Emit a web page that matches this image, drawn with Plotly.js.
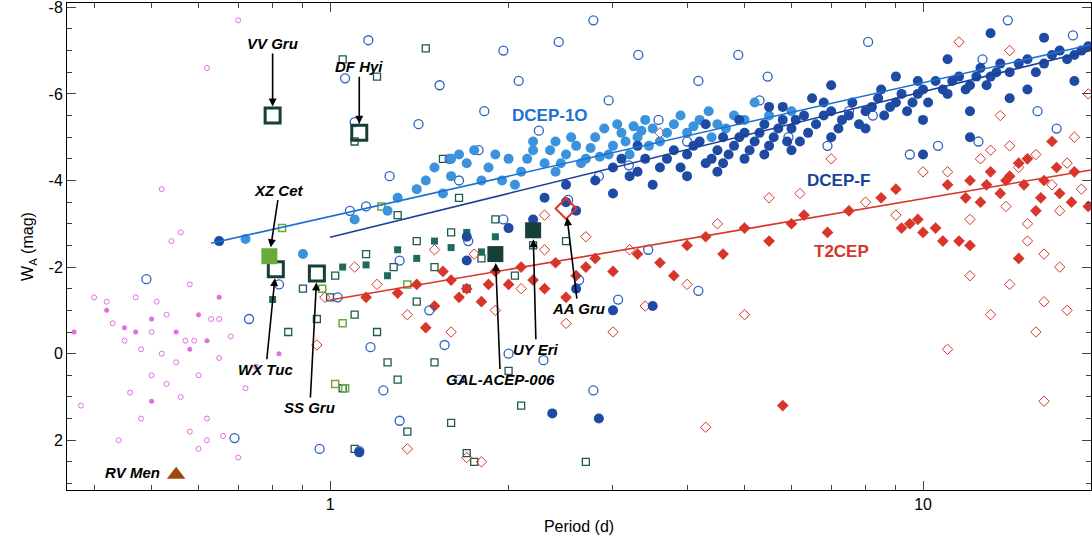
<!DOCTYPE html><html><head><script src="https://cdn.plot.ly/plotly-3.0.1.min.js"></script>
<style>body{margin:0}</style></head><body><div id="c" style="width:1092px;height:558px"></div><script>
// [period, W_A]
const dcep1o=[[1.3,-3.6],[1.4,-3.8],[1.5,-4.3],[1.6,-4.1],[1.7,-4.4],[1.8,-4.0],[1.9,-4.6],[2.0,-4.5],[2.1,-4.2],[2.2,-4.7],[2.3,-4.4],[2.4,-4.9],[2.5,-4.6],[2.6,-4.8],[2.7,-4.5],[2.8,-5.0],[3.0,-4.8],[3.1,-5.1],[3.3,-5.0],[3.5,-5.2],[3.6,-4.9],[3.8,-5.3],[4.0,-5.1],[4.2,-5.4],[4.5,-5.3],[4.8,-5.5],[5.0,-5.4],[5.5,-5.5],[6.0,-5.6],[2.9,-5.2],[2.4,-4.2],[1.25,-3.3],[1.1,-3.1],[0.72,-2.65],[0.9,-2.3],[3.4,-5.4],[3.2,-4.6],[2.2,-4.9],[1.6,-4.5],[1.95,-4.0],[5.2,-5.8],[2.05,-3.9],[1.75,-4.7],[1.85,-4.3],[2.15,-4.5],[2.35,-4.7],[2.55,-5.0],[2.65,-4.4],[2.75,-4.75],[2.85,-4.55],[3.05,-5.3],[3.15,-4.9],[3.25,-5.25],[3.45,-4.8],[3.7,-5.1],[3.9,-5.5],[4.1,-5.25],[4.35,-5.6],[4.65,-5.2],[1.45,-4.0],[1.55,-3.7],[1.65,-4.6],[2.45,-4.4],[2.95,-4.6],[3.35,-5.15],[4.4,-5.0]];
const dcepF=[[2.3,-3.6],[2.5,-3.9],[2.6,-3.3],[2.8,-4.0],[3.0,-4.3],[3.2,-4.1],[3.4,-4.5],[3.6,-4.3],[3.8,-4.7],[4.0,-4.6],[4.2,-4.9],[4.4,-4.5],[4.6,-5.0],[4.8,-4.8],[5.0,-5.1],[5.2,-4.9],[5.4,-5.3],[5.6,-5.0],[5.8,-5.4],[6.0,-5.2],[6.3,-5.5],[6.6,-5.3],[7.0,-5.6],[7.3,-5.4],[7.6,-5.8],[8.0,-5.6],[8.4,-5.9],[8.8,-5.7],[9.2,-6.0],[9.6,-5.8],[10,-6.1],[10.5,-6.3],[11,-6.0],[11.5,-6.4],[12,-6.2],[12.5,-6.6],[13,-6.4],[13.5,-6.7],[14,-6.5],[15,-6.8],[16,-6.7],[17,-7.0],[18,-6.9],[19,-7.1],[3.0,-3.7],[3.5,-3.9],[4.0,-4.1],[4.5,-4.2],[5.0,-4.5],[6.0,-4.7],[7.0,-5.0],[8.0,-5.2],[5.5,-5.7],[6.5,-5.9],[4.3,-5.3],[3.3,-4.8],[2.5,-3.5],[2.2,-3.1],[2.0,-2.9],[1.7,-2.7],[12,-5.6],[14,-5.9],[10,-5.4],[9,-6.4],[11,-6.8],[16,-7.3],[13,-7.4],[15,-6.1],[18,-6.3],[7.0,-6.2],[3.5,-1.1],[2.6,-1.5],[3.0,-1.0],[10,-4.6],[12,-5.0],[2.37,1.38],[2.84,1.5],[1.12,2.28],[0.65,-2.6],[1.7,-2.15],
[3.1,-4.5],[3.3,-4.2],[3.7,-4.5],[3.9,-4.3],[4.1,-4.8],[4.3,-4.4],[4.5,-4.7],[4.7,-4.6],[4.9,-5.0],[5.1,-4.7],[5.3,-5.1],[5.5,-4.8],[5.7,-5.2],[5.9,-4.9],[6.1,-5.4],[6.4,-5.1],[6.8,-5.5],[7.2,-5.2],[7.5,-5.5],[7.8,-5.3],[8.2,-5.7],[8.6,-5.5],[9.0,-5.8],[9.4,-5.6],[9.8,-6.0],[10.2,-5.8],[10.8,-6.1],[11.2,-6.3],[11.8,-6.1],[12.3,-6.4],[12.8,-6.2],[13.3,-6.5],[14.5,-6.7],[15.5,-6.5],[16.5,-6.9],[17.5,-6.8],[18.5,-7.0],[4.6,-4.4],[5.4,-4.6],[6.2,-4.9],[6.8,-5.8],[8.5,-6.1],[9.8,-6.3],[5.8,-5.7],[4.9,-5.4]];
const blueOpen=[[0.49,-1.72],[0.69,1.95],[0.73,-0.8],[0.82,-1.6],[0.96,2.2],[1.03,-1.3],[1.12,2.25],[1.17,-0.15],[1.08,-3.3],[1.15,-3.4],[1.26,-4.1],[1.41,-5.3],[1.53,-6.2],[1.59,-4.5],[1.71,-2.6],[1.82,-5.6],[1.96,-7.0],[2.08,-6.3],[2.43,-7.2],[2.78,-7.7],[2.95,-5.85],[3.31,-6.9],[3.58,-5.4],[4.18,-6.3],[4.88,-6.9],[5.47,-6.4],[5.93,-5.0],[6.9,-4.8],[8.08,-7.2],[8.23,-5.5],[9.5,-4.6],[10.6,-4.8],[12.6,-6.8],[13.9,-7.7],[15.6,-5.6],[16.8,-5.2],[17.9,-7.35],[1.56,-0.2],[1.65,0.6],[2.0,0.0],[2.29,0.15],[2.63,-1.7],[2.78,0.85],[3.06,-1.25],[3.44,-2.4],[4.18,-1.45],[1.31,1.55],[1.23,0.85],[1.47,-1.0],[2.52,-3.55],[2.84,-4.1],[3.19,-4.35],[2.25,-5.15],[1.78,-4.7],[1.31,-2.15],[1.65,-4.0],[1.96,-3.1],[5.3,-5.85],[4.0,-4.9],[7.5,-5.6],[12.4,-4.9],[1.06,-6.36],[1.16,-7.24],[1.1,-5.35]];
const t2Fill=[[1.3,-1.4],[1.4,-1.6],[1.5,-1.1],[1.6,-1.7],[1.7,-1.5],[1.8,-1.2],[1.9,-1.9],[2.0,-1.6],[2.1,-2.0],[2.2,-1.7],[2.4,-2.1],[2.6,-1.8],[2.8,-2.2],[3.0,-1.9],[3.3,-2.3],[3.6,-2.1],[4.0,-2.5],[4.3,-2.7],[4.6,-2.3],[5.0,-2.9],[5.5,-2.6],[6.0,-3.0],[6.3,-3.2],[6.9,-2.8],[7.5,-3.3],[8.5,-3.6],[9.0,-3.8],[9.5,-3.0],[10,-2.8],[10.5,-2.9],[11,-3.9],[12,-4.0],[12.5,-3.5],[13,-4.2],[14,-4.1],[15,-4.5],[15.5,-3.3],[16,-4.0],[17,-3.7],[18,-4.2],[19,-3.4],[16.5,-4.9],[14.5,-4.4],[13.5,-3.7],[11.5,-2.6],[12,-2.5],[5.8,1.2],[14.5,-2.2],[1.45,-0.6],[1.15,-1.3],[1.55,-1.9],[3.8,-1.8],[2.5,-1.3],[12.8,-3.9],[13.8,-4.0],[14.8,-3.9],[15.8,-3.6],[16.8,-4.3],[17.8,-3.5],[11.8,-3.6],[9.2,-2.9],[9.8,-3.1],[10.8,-2.6],[1.65,-1.3],[1.85,-1.6],[2.3,-1.5],[2.7,-2.0]];
const t2Open=[[0.98,-1.3],[1.1,-2.0],[1.2,-1.6],[1.35,-0.9],[1.5,-2.4],[1.6,-0.5],[1.75,-2.3],[1.9,-1.0],[2.1,-1.5],[2.3,-2.4],[2.5,-0.7],[2.7,-2.7],[3.0,-0.5],[3.4,-1.1],[4.0,-1.6],[4.5,-3.0],[5.0,-0.9],[5.5,-3.6],[6.2,-3.7],[7.0,-4.5],[8.0,-3.5],[9.0,-3.2],[10,-4.2],[11,-0.1],[12,-1.8],[13,-0.9],[14,-4.8],[15,-2.6],[16,-1.2],[17,-3.3],[15.5,-0.5],[16,1.1],[18,-5.0],[13.5,-5.5],[11.5,-7.2],[14,-7.0],[4.3,1.7],[1.7,2.4],[1.35,2.2],[1.8,2.5],[0.95,-0.2],[3.6,-5.1],[19,-6.0],[3.2,-2.4],[2.3,-3.2],[12.5,-4.5],[13,-4.7],[14.5,-4.3],[15.5,-4.6],[16.5,-3.9],[17.5,-4.4],[18.5,-3.8],[13.8,-3.4],[15,-3.0],[16,-2.3],[17,-2.0],[12,-3.1],[11,-4.2],[14,-1.6],[17.5,-1.0]];
const acepOpen=[[1.05,-6.8],[1.2,-6.4],[1.45,-7.05],[1.1,-4.9],[1.3,-3.2],[1.4,-2.6],[1.5,-2.0],[1.6,-2.8],[1.7,-1.5],[1.8,-2.2],[1.9,-3.1],[2.05,-1.8],[2.2,-2.5],[2.5,-2.6],[1.0,-1.3],[1.1,-0.9],[1.2,-0.5],[1.3,0.6],[1.5,0.2],[1.6,1.6],[1.7,2.3],[1.75,2.5],[1.05,0.8],[1.1,2.2],[1.25,0.2],[0.9,-1.5],[0.95,-0.8],[2.0,0.4],[2.1,1.2],[2.7,2.5],[1.35,1.8],[1.15,-2.3],[1.4,-1.2],[1.55,-4.5],[1.65,-3.6],[0.85,-0.5],[1.28,-2.0],[1.02,-1.8]];
const acepFill=[[0.8,-1.25],[1.15,-2.05],[1.3,-2.4],[1.4,-2.2],[1.5,-2.6],[1.7,-2.8],[1.9,-2.7],[2.0,-2.9],[1.25,-1.8],[1.6,-2.45],[1.05,-2.0],[1.8,-2.35]];
const green=[[0.83,-2.9],[0.97,-1.5],[1.05,-0.7],[1.22,-3.4],[1.35,-1.6],[1.02,0.7],[1.06,0.8]];
const rrOpen=[[0.38,1.2],[0.4,-1.3],[0.42,-1.2],[0.43,-0.7],[0.45,-0.3],[0.47,-1.3],[0.5,-0.5],[0.5,0.5],[0.52,0.0],[0.53,-0.9],[0.55,0.2],[0.56,1.0],[0.57,-0.3],[0.58,-1.6],[0.6,0.5],[0.62,1.5],[0.63,-0.8],[0.65,0.1],[0.66,1.9],[0.68,-0.4],[0.7,2.4],[0.72,0.8],[0.58,1.8],[0.6,2.2],[0.54,-2.6],[0.56,-2.8],[0.52,-3.8],[0.62,-6.6],[0.7,-7.7],[0.46,0.9],[0.48,1.5],[0.44,2.0],[0.48,-0.1],[0.65,-0.8],[0.59,-0.3],[0.53,0.7],[0.62,2.0],[0.75,0.3],[0.51,-1.2]];
const rrFill=[[0.37,-0.5],[0.42,-1.0],[0.45,-0.6],[0.5,-0.8],[0.55,-0.5],[0.6,-0.9],[0.62,-0.3],[0.65,-1.3],[0.5,1.1],[0.47,-0.5],[0.58,-0.1],[0.82,0.0]];
// relations: [Pmin, Pmax, a, b]  W = a + b*logP
const relations={DCEP1O:[0.63,19.2,-3.17,-3.09],DCEPF:[1.0,19.2,-2.69,-3.36],T2CEP:[1.0,19.2,-1.24,-2.34]};
// named stars: name, P, W, arrow/text offset (px)
const named=[["VV Gru",0.80,-5.5,0,-72],["DF Hyi",1.12,-5.1,0,-66],["XZ Cet",0.79,-2.25,10,-66],["WX Tuc",0.81,-1.95,-10,100],["SS Gru",0.95,-1.85,-7,134],["GAL-ACEP-006",1.9,-2.3,5,125],["UY Eri",2.2,-2.85,3,119],["AA Gru",2.5,-3.35,12,100]];

const X=a=>a.map(p=>p[0]),Y=a=>a.map(p=>p[1]);
function sc(d,sym,col,size,lw,line){return {type:'scatter',mode:'markers',x:X(d),y:Y(d),marker:{symbol:sym,color:col,size:size,line:{color:line||col,width:lw}},hoverinfo:'skip'};}
const RED='#d8352b';
const traces=[
 sc(rrOpen,'circle-open','#e36de3',5,1),
 sc(rrFill,'circle','#e36de3',5,0),
 sc(acepOpen,'square-open','#1d5a4f',7,1.3),
 sc(acepFill,'square','#1e6a5c',7,0),
 sc(green,'square-open','#6aaa3a',7,1.5),
 sc(t2Open,'diamond-open',RED,8,1),
 sc(t2Fill,'diamond',RED,9,0),
 sc(blueOpen,'circle-open','#2a62c0',9,1.3),
 sc(dcep1o,'circle','#3b93dd',10,0),
 sc(dcepF,'circle','#1e4aa3',10,0)
];
const lineCols={DCEP1O:'#1a72d4',DCEPF:'#1a3f9a',T2CEP:RED};
for(const k in relations){const [p0,p1,a,b]=relations[k];traces.push({type:'scatter',mode:'lines',x:[p0,p1],y:[a+b*Math.log10(p0),a+b*Math.log10(p1)],line:{color:lineCols[k],width:1.6},hoverinfo:'skip'});}
traces.push(sc([[0.80,-5.5],[1.12,-5.1],[0.81,-1.95],[0.95,-1.85]],'square-open','#163f35',15,3));
traces.push(sc([[0.79,-2.25]],'square','#6aaa3a',16,0));
traces.push(sc([[1.9,-2.3],[2.2,-2.85]],'square','#163f35',16,0));
traces.push(sc([[2.5,-3.35]],'diamond-open',RED,16,2));
traces.push(sc([[0.55,2.8]],'triangle-up','#a0460e',16,0));
const ann=named.map(n=>({x:Math.log10(n[1]),y:n[2],ax:n[3],ay:n[4],text:'<b><i>'+n[0]+'</i></b>',showarrow:true,arrowhead:2,arrowsize:1,arrowwidth:1.6,arrowcolor:'#000',standoff:9,font:{size:15,color:'#000'}}));
ann.push({x:Math.log10(0.465),y:2.75,text:'<b><i>RV Men</i></b>',showarrow:false,font:{size:15}});
ann.push({x:Math.log10(2.35),y:-5.5,text:'<b>DCEP-1O</b>',showarrow:false,font:{size:17,color:'#1a72d4'}});
ann.push({x:Math.log10(7.2),y:-4.0,text:'<b>DCEP-F</b>',showarrow:false,font:{size:17,color:'#1a3f9a'}});
ann.push({x:Math.log10(7.3),y:-2.35,text:'<b>T2CEP</b>',showarrow:false,font:{size:17,color:RED}});
const minorX=[0.4,0.5,0.6,0.7,0.8,0.9,2,3,4,5,6,7,8,9];
Plotly.newPlot('c',traces,{
 width:1092,height:558,margin:{l:67,r:1,t:3,b:68},showlegend:false,plot_bgcolor:'#fff',
 font:{family:'Liberation Sans, Arial',size:16,color:'#000'},annotations:ann,
 xaxis:{type:'log',range:[Math.log10(0.36),Math.log10(19.2)],tickvals:[1,10],ticktext:['1','10'],ticks:'inside',ticklen:9,mirror:'ticks',showline:true,linecolor:'#000',linewidth:1,showgrid:false,zeroline:false,
  minor:{tickvals:minorX,ticks:'inside',ticklen:5,showgrid:false},title:{text:'Period (d)',font:{size:16},standoff:8}},
 yaxis:{range:[3.15,-8.1],tickvals:[2,0,-2,-4,-6,-8],ticktext:['2','0','-2','-4','-6','-8'],ticklabeloverflow:'allow',ticks:'inside',ticklen:9,mirror:'ticks',showline:true,linecolor:'#000',linewidth:1,showgrid:false,zeroline:false,
  minor:{dtick:0.5,ticks:'inside',ticklen:5,showgrid:false},title:{text:'W<sub>A</sub> (mag)',font:{size:16},standoff:10}}
},{staticPlot:true});
</script></body></html>
